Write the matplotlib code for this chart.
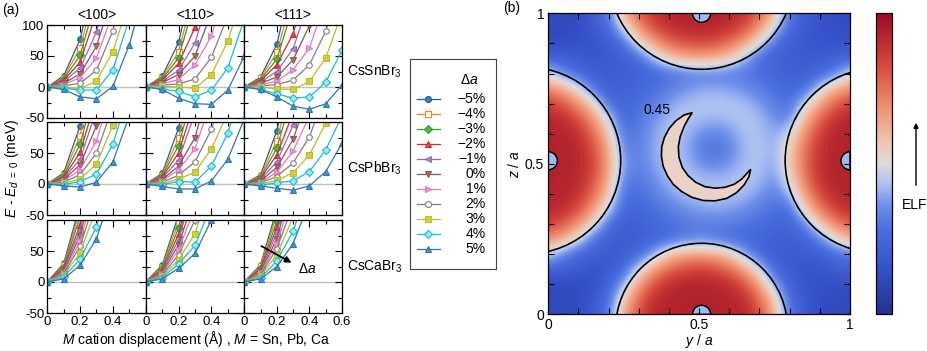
import numpy as np
import matplotlib
matplotlib.use('Agg')
import matplotlib.pyplot as plt
import matplotlib as mpl
from matplotlib.colors import LinearSegmentedColormap, Normalize
from matplotlib.patches import Circle, Polygon, FancyArrowPatch, Wedge
from matplotlib.ticker import FixedLocator, MultipleLocator

plt.rcParams['font.family'] = ['Liberation Sans', 'DejaVu Sans']
plt.rcParams['mathtext.fontset'] = 'custom'
plt.rcParams['mathtext.rm'] = 'Liberation Sans'
plt.rcParams['mathtext.it'] = 'Liberation Sans:italic'
plt.rcParams['mathtext.bf'] = 'Liberation Sans:bold'

# ---------------- data: panel (a) ----------------
displacement = [0.0, 0.1, 0.2, 0.3, 0.4, 0.5, 0.6]
delta_a_labels = ['\u22125%', '\u22124%', '\u22123%', '\u22122%', '\u22121%', '0%',
                  '1%', '2%', '3%', '4%', '5%']
compounds = ['CsSnBr$_3$', 'CsPbBr$_3$', 'CsCaBr$_3$']
directions = ['<100>', '<110>', '<111>']

E_SnBr3_100 = [[0, 18, 77, 190], [0, 15, 63, 165], [0, 13, 51, 145], [0, 11, 40, 120],
               [0, 9, 30, 89, 190], [0, 6, 21, 66, 150], [0, 4, 15, 47, 120],
               [0, 2, 6, 27, 91, 190], [0, 0, -3, 10, 57, 140], [0, -2, -5, -5, 28, 110],
               [0, -4, -16, -19, 1, 68, 165]]
E_SnBr3_110 = [[0, 17, 72, 185], [0, 15, 57, 160], [0, 13, 47, 140], [0, 11, 38, 96, 200],
               [0, 9, 27, 71, 160], [0, 7, 20, 50, 120], [0, 5, 12, 36, 82, 170],
               [0, 3, 5, 13, 48, 115], [0, 1, 0, -2, 20, 74, 160],
               [0, -3, -7, -16, -5, 31, 110], [0, -4, -18, -27, -28, -5, 50]]
E_SnBr3_111 = [[0, 16, 69, 180], [0, 14, 56, 150], [0, 12, 45, 130], [0, 10, 36, 86, 180],
               [0, 8, 25, 62, 140], [0, 6, 16, 44, 99, 190], [0, 4, 9, 28, 63, 140],
               [0, 2, 4, 11, 36, 90, 180], [0, 0, -3, -4, 9, 47, 120],
               [0, -4, -11, -18, -16, 8, 59], [0, -4, -16, -31, -36, -27, 3]]
E_PbBr3_100 = [[0, 18, 94, 220], [0, 15, 78, 190], [0, 13, 64, 165], [0, 11, 51, 140],
               [0, 9, 40, 120], [0, 7, 31, 94, 200], [0, 5, 23, 70, 160],
               [0, 3, 15, 50, 125], [0, 1, 8, 32, 95, 200], [0, -1, 4, 16, 64, 150],
               [0, -3, -5, 3, 36, 110]]
E_PbBr3_110 = [[0, 17, 90, 210], [0, 15, 74, 185], [0, 13, 62, 160], [0, 11, 50, 135],
               [0, 9, 39, 115], [0, 7, 29, 75, 170], [0, 5, 23, 57, 135],
               [0, 3, 14, 36, 88, 180], [0, 1, 8, 19, 57, 115], [0, -1, 4, 3, 29, 82, 170],
               [0, -4, -8, -8, 5, 40, 105]]
E_PbBr3_111 = [[0, 15, 86, 200], [0, 13, 70, 175], [0, 11, 58, 150], [0, 9, 47, 115],
               [0, 7, 36, 95, 190], [0, 5, 27, 72, 150], [0, 3, 19, 53, 110],
               [0, 2, 12, 34, 76, 150], [0, 0, 6, 18, 47, 98, 180],
               [0, -2, 2, 5, 20, 55, 110], [0, -3, -7, -10, -3, 20, 66]]
E_CaBr3_100 = [[0, 30, 125, 280], [0, 27, 115, 260], [0, 25, 105, 240], [0, 22, 92, 220],
               [0, 20, 83, 200], [0, 17, 75, 180], [0, 15, 66, 160], [0, 13, 58, 140],
               [0, 11, 47, 120], [0, 8, 37, 89, 190], [0, 5, 27, 70, 150]]
E_CaBr3_110 = [[0, 27, 108, 240], [0, 24, 97, 220], [0, 22, 87, 200], [0, 19, 77, 180],
               [0, 17, 68, 160], [0, 15, 60, 140], [0, 13, 52, 120], [0, 11, 44, 100, 200],
               [0, 9, 36, 78, 160], [0, 7, 29, 59, 125], [0, 5, 22, 46, 100]]
E_CaBr3_111 = [[0, 28, 118, 265], [0, 26, 108, 245], [0, 23, 98, 225], [0, 21, 88, 205],
               [0, 18, 79, 185], [0, 16, 70, 165], [0, 14, 62, 145], [0, 12, 54, 125],
               [0, 10, 44, 105], [0, 7, 34, 82, 160], [0, 5, 25, 62, 130]]

panels = [[E_SnBr3_100, E_SnBr3_110, E_SnBr3_111],
          [E_PbBr3_100, E_PbBr3_110, E_PbBr3_111],
          [E_CaBr3_100, E_CaBr3_110, E_CaBr3_111]]

# ---------------- data: panel (b) ----------------
elf_percent_rows = [  # z = 1.00 (top) ... 0.00 (bottom); y = 0 ... 1 in steps of 0.05
    "12 12 12 21 32 61 78 90 93 93 93 93 93 90 78 61 32 21 14 13 12",
    "12 12 13 19 26 49 67 81 89 92 93 92 89 81 67 49 26 19 16 15 14",
    "12 13 15 16 21 28 51 65 75 81 82 81 75 65 51 28 21 18 17 16 15",
    "25 22 20 17 18 22 27 43 57 62 64 62 57 43 27 22 21 19 20 22 25",
    "48 35 26 22 19 21 22 25 28 31 33 32 32 30 28 25 22 21 26 33 49",
    "70 63 51 30 22 22 25 28 32 36 39 40 39 36 32 28 25 27 47 61 69",
    "86 80 68 54 29 24 28 32 38 43 44 45 44 43 38 32 28 47 64 77 85",
    "93 90 82 67 48 25 30 36 43 45 43 42 43 45 43 36 33 60 76 89 93",
    "93 93 90 76 58 29 32 39 44 43 37 33 37 43 44 39 48 69 85 93 93",
    "93 93 92 82 64 34 32 40 45 42 33 28 33 42 45 40 55 74 89 93 93",
    "93 93 93 84 65 38 32 39 44 43 37 33 37 43 44 39 56 75 90 93 93",
    "93 93 92 82 64 34 30 36 43 45 43 42 43 45 43 36 52 73 89 93 93",
    "93 93 90 76 58 29 28 32 38 43 44 45 44 43 38 32 42 66 83 92 93",
    "93 90 82 67 48 25 25 28 32 36 39 40 39 36 32 28 28 56 72 85 91",
    "86 80 68 54 29 21 22 25 28 30 32 32 32 30 28 25 23 34 58 70 80",
    "70 63 51 30 22 19 21 23 27 31 33 31 27 25 24 22 21 24 33 52 62",
    "48 35 26 22 18 20 26 40 57 63 65 63 57 40 26 20 19 19 22 27 33",
    "25 22 20 15 19 26 48 65 76 82 85 82 76 65 48 26 19 17 16 20 22",
    "12 12 13 14 23 40 65 81 90 93 93 93 90 81 65 40 23 16 15 14 13",
    "12 12 12 19 27 57 76 90 93 93 93 93 93 90 76 57 27 19 13 13 12",
    "12 12 12 20 31 63 82 93 93 93 93 93 93 93 82 63 31 20 12 12 12",
]
lobe_centers = [(-0.07, 0.511), (1.091, 0.511), (0.508, 1.119), (0.508, -0.049)]
lobe_radii = [0.31, 0.306, 0.305, 0.285]
core_centers = [(0.0, 0.51), (1.0, 0.51), (0.508, 1.0), (0.508, 0.0)]
core_angles = [(-90, 90), (90, 270), (180, 360), (0, 180)]
core_radius = 0.03
crescent_y = [0.477, 0.450, 0.423, 0.401, 0.385, 0.376, 0.375, 0.381, 0.395, 0.414, 0.442,
              0.475, 0.514, 0.553, 0.591, 0.624, 0.649, 0.665, 0.671,
              0.658, 0.641, 0.616, 0.586, 0.553, 0.519, 0.488, 0.463, 0.444, 0.433,
              0.431, 0.437, 0.450, 0.464]
crescent_z = [0.670, 0.662, 0.643, 0.618, 0.588, 0.557, 0.524, 0.491, 0.460, 0.432, 0.408,
              0.389, 0.378, 0.377, 0.385, 0.404, 0.430, 0.457, 0.482,
              0.468, 0.449, 0.432, 0.422, 0.419, 0.424, 0.439, 0.461, 0.488, 0.522,
              0.557, 0.590, 0.624, 0.650]
contour_label = '0.45'

# ---------------- styles ----------------
colors = ['#1f5e9c', '#ff7f0e', '#2ca02c', '#d62728', '#9467bd', '#8c564b',
          '#e377c2', '#7f7f7f', '#bcbd22', '#17becf', '#2a77b4']
markers = ['o', 's', 'D', '^', '<', 'v', '>', 'o', 's', 'D', '^']
facecols = ['#3f7fbf', 'white', '#49b849', '#e04848', '#a98ad0', '#a87060',
            '#f099d6', 'white', '#cfd040', '#9de8f0', '#4a93cc']
msizes = [4, 4, 3.6, 4.2, 4.2, 4.2, 4.2, 4, 4, 3.6, 4.2]

W, H = 928, 351
fig = plt.figure(figsize=(W / 100, H / 100), dpi=100)


def fx(px):
    return px / W


def fy(py):
    return 1 - py / H


col_x = [(47.3, 145.7), (145.7, 244.3), (244.3, 342.0)]
row_y = [(25, 118), (122, 215), (220, 313)]

x = np.array(displacement)
for r in range(3):
    for c in range(3):
        x0, x1 = col_x[c]
        y0, y1 = row_y[r]
        ax = fig.add_axes([fx(x0), fy(y1), fx(x1 - x0), (y1 - y0) / H])
        ax.axhline(0, color='#c0c0c0', lw=1.0, zorder=0)
        for k, vals in enumerate(panels[r][c]):
            v = np.array(list(vals) + [np.nan] * (len(x) - len(vals)), float)
            ax.plot(x, v, color=colors[k], lw=0.9, marker=markers[k], ms=msizes[k],
                    mfc=facecols[k], mec=colors[k], mew=0.8)
        ax.set_xlim(0, 0.6)
        ax.set_ylim(-50, 100)
        ax.xaxis.set_major_locator(FixedLocator([0, 0.2, 0.4, 0.6]))
        ax.xaxis.set_minor_locator(FixedLocator([0.1, 0.3, 0.5]))
        ax.yaxis.set_major_locator(FixedLocator([-50, 0, 50, 100]))
        ax.yaxis.set_minor_locator(FixedLocator([-25, 25, 75]))
        ax.tick_params(which='both', direction='in', top=True, right=True, width=0.8,
                       labelsize=9.5, pad=2)
        ax.tick_params(which='major', length=5)
        ax.tick_params(which='minor', length=3)
        for s in ax.spines.values():
            s.set_linewidth(0.9)
        if c == 0:
            ylabs = ['-50', '0', '50', '100'] if r == 0 else ['-50', '0', '50', '']
            ax.set_yticklabels(ylabs)
        else:
            ax.set_yticklabels([])
        if r == 2:
            xl = ['0', '0.2', '0.4', '0.6'] if c == 2 else ['0', '0.2', '0.4', '']
            ax.set_xticklabels(xl)
        else:
            ax.set_xticklabels([])
        if r == 0:
            ax.set_title(directions[c], fontsize=10, pad=4)
        if c == 2:
            ax.text(1.05, 0.5, compounds[r], transform=ax.transAxes, fontsize=10,
                    ha='left', va='center')
        if r == 2 and c == 2:
            ax.annotate('', xy=(0.305, 29), xytext=(0.09, 60),
                        arrowprops=dict(arrowstyle='-|>', color='black', lw=1.3,
                                        mutation_scale=9))
            ax.text(0.33, 21, 'Δ$a$', fontsize=10, ha='left', va='center')

fig.text(fx(12), fy(168), r'$E$ - $E_{d\ =\ 0}$ (meV)', rotation=90, ha='center',
         va='center', fontsize=10)
fig.text(fx(196), fy(339), r'$M$ cation displacement (Å) , $M$ = Sn, Pb, Ca',
         ha='center', va='center', fontsize=10)
fig.text(fx(2), fy(10), '(a)', ha='left', va='center', fontsize=10)
fig.text(fx(503), fy(8), '(b)', ha='left', va='center', fontsize=10)

# ---------------- legend (manual) ----------------
lx0, lx1, ly0, ly1 = 410, 496, 59, 269
lax = fig.add_axes([fx(lx0), fy(ly1), fx(lx1 - lx0), (ly1 - ly0) / H])
lax.set_xlim(0, lx1 - lx0)
lax.set_ylim(ly1 - ly0, 0)
lax.set_xticks([])
lax.set_yticks([])
for s in lax.spines.values():
    s.set_linewidth(0.8)
    s.set_color('#444444')
lax.text(59, 21, 'Δ$a$', ha='center', va='center', fontsize=10)
for k, lab in enumerate(delta_a_labels):
    yy = 40.3 + 15 * k
    lax.plot([7, 30], [yy, yy], color=colors[k], lw=0.9)
    lax.plot([18.5], [yy], color=colors[k], marker=markers[k], ms=msizes[k] + 0.3,
             mfc=facecols[k], mec=colors[k], mew=0.8)
    lax.text(76, yy, lab, ha='right', va='center', fontsize=10)

# ---------------- panel (b) ----------------
cmap = LinearSegmentedColormap.from_list('elf', [
    (0.00, '#25318c'), (0.14, '#3350c6'), (0.28, '#4a6ede'), (0.36, '#6d8ee9'),
    (0.43, '#aabff2'), (0.50, '#dddcdc'), (0.58, '#f1c2ab'), (0.70, '#ef8a6c'),
    (0.84, '#d3443a'), (1.00, '#9c0b24')])
elf = np.array([[float(v) for v in row.split()] for row in elf_percent_rows]) / 100.0

bx0, bx1, by0, by1 = 548.3, 850, 13.3, 314.3
bax = fig.add_axes([fx(bx0), fy(by1), fx(bx1 - bx0), (by1 - by0) / H])
bax.imshow(elf, cmap=cmap, vmin=0, vmax=1, origin='upper',
           extent=[-0.025, 1.025, -0.025, 1.025], interpolation='bicubic', aspect='auto')
for (cy, cz), rr in zip(lobe_centers, lobe_radii):
    p = bax.add_patch(Circle((cy, cz), rr, fill=False, ec='black', lw=1.2))
    p.set_clip_path(bax.patch)
for (cy, cz), (t1, t2) in zip(core_centers, core_angles):
    p = bax.add_patch(Wedge((cy, cz), core_radius, t1, t2, fc=cmap(0.42), ec='black',
                            lw=1.1))
    p.set_clip_path(bax.patch)
bax.add_patch(Polygon(np.column_stack([crescent_y, crescent_z]), closed=True,
                      fc='#ead2c6', ec='black', lw=1.2))
bax.text(0.36, 0.679, contour_label, ha='center', va='center', fontsize=10)
bax.set_xlim(0, 1)
bax.set_ylim(0, 1)
bax.xaxis.set_major_locator(FixedLocator([0, 0.5, 1]))
bax.yaxis.set_major_locator(FixedLocator([0, 0.5, 1]))
bax.xaxis.set_minor_locator(MultipleLocator(0.1))
bax.yaxis.set_minor_locator(MultipleLocator(0.1))
bax.set_xticklabels(['0', '0.5', '1'])
bax.set_yticklabels(['0', '0.5', '1'])
bax.tick_params(which='both', direction='in', top=True, right=True, length=4, width=0.8,
                labelsize=10, pad=3)
bax.set_xlabel('$y$ / $a$', fontsize=10, labelpad=0)
bax.set_ylabel('$z$ / $a$', fontsize=10, labelpad=2)
for s in bax.spines.values():
    s.set_linewidth(0.9)
    s.set_zorder(5)

cax = fig.add_axes([fx(876), fy(by1), fx(16), (by1 - by0) / H])
cb = mpl.colorbar.ColorbarBase(cax, cmap=cmap, norm=Normalize(0, 1), orientation='vertical')
cb.set_ticks([])
cb.outline.set_linewidth(0.9)
fig.text(fx(915), fy(205), 'ELF', ha='center', va='center', fontsize=10)
fig.add_artist(FancyArrowPatch((fx(916), fy(188)), (fx(916), fy(120)),
                               transform=fig.transFigure, arrowstyle='-|>',
                               mutation_scale=7, color='black', lw=1.0))

fig.savefig('out.png', dpi=100)
